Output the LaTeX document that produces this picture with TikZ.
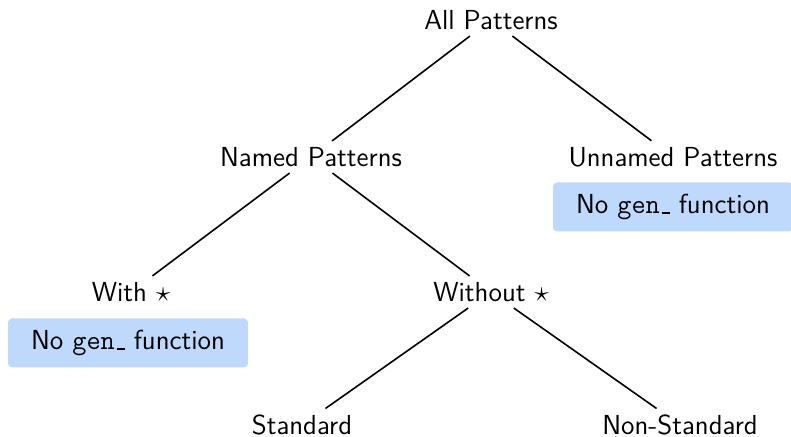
\documentclass[tikz,border=0pt]{standalone}
\definecolor{boxblue}{RGB}{191,217,252}
\newcommand\myusc{\leavevmode\kern.06em\vbox{\hrule width.3em height 0.9pt}}
\begin{document}
\begin{tikzpicture}[x=0.5pt,y=-0.5pt,
  lbl/.style={font=\sffamily\fontsize{13.75}{16}\selectfont, inner sep=3pt},
  infobox/.style={font=\sffamily\fontsize{13.75}{16}\selectfont, fill=boxblue, rounded corners=2pt, minimum width=120pt, minimum height=24.5pt, inner sep=2pt},
  edge/.style={line width=0.8pt}]
\useasboundingbox (0,0) rectangle (791,437);
\node[lbl] (all) at (491,20) {All Patterns};
\node[lbl] (named) at (311,157) {Named Patterns};
\node[lbl] (unnamed) at (673,157) {Unnamed Patterns};
\node[infobox] (box1) at (673,207) {No \texttt{gen}\myusc{} function};
\node[lbl] (with) at (131,292) {With $\star$};
\node[infobox] (box2) at (128,343) {No \texttt{gen}\myusc{} function};
\node[lbl] (without) at (491,292) {Without $\star$};
\node[lbl] (std) at (302,425) {Standard};
\node[lbl] (nonstd) at (680,425) {Non-Standard};
\draw[edge] (all) -- (named);
\draw[edge] (all) -- (unnamed);
\draw[edge] (named) -- (with);
\draw[edge] (named) -- (without);
\draw[edge] (without) -- (std);
\draw[edge] (without) -- (nonstd);
\end{tikzpicture}
\end{document}
